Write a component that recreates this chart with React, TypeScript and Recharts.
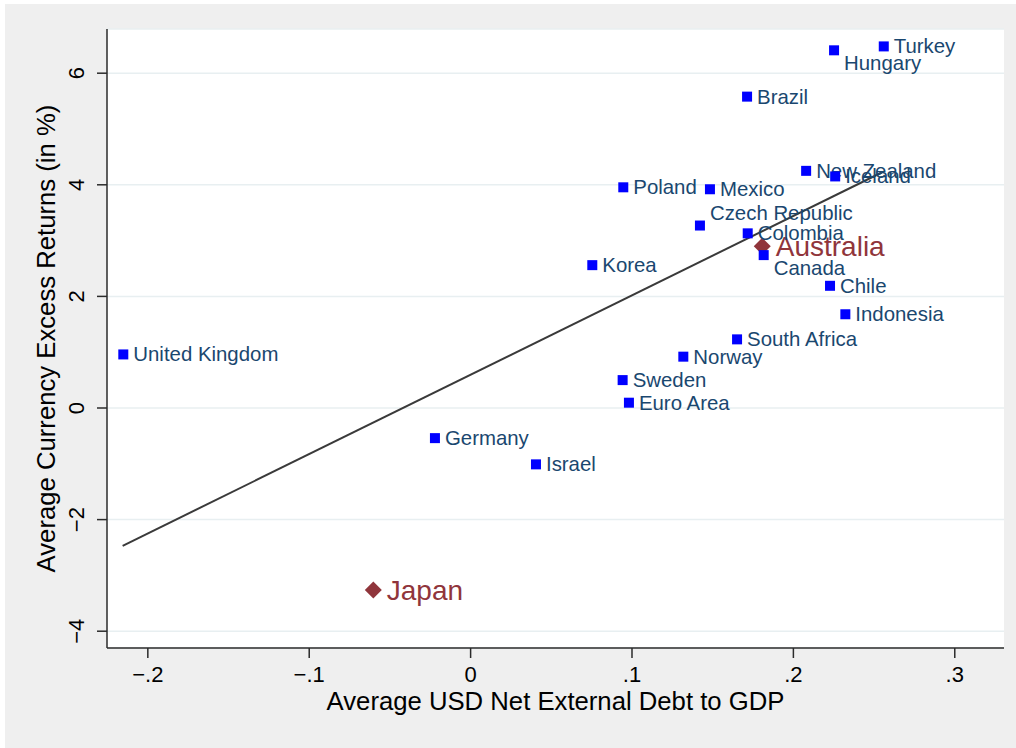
import { ScatterChart, Scatter, XAxis, YAxis, CartesianGrid, ReferenceLine } from 'recharts'

const FONT = '"Liberation Sans", Arial, Helvetica, sans-serif'

// currencies: net external debt in USD (share of GDP) vs. average excess return (%)
const countries = [
  'Turkey', 'Hungary', 'Brazil', 'New Zealand', 'Iceland', 'Poland', 'Mexico',
  'Czech Republic', 'Colombia', 'Canada', 'Korea', 'Chile', 'Indonesia',
  'South Africa', 'United Kingdom', 'Norway', 'Sweden', 'Euro Area', 'Germany', 'Israel',
]
const netDebt = [
  0.256, 0.2252, 0.1713, 0.2079, 0.2259, 0.0946, 0.1483,
  0.1421, 0.1717, 0.1816, 0.0754, 0.2227, 0.2322,
  0.1651, -0.2152, 0.1318, 0.0942, 0.0981, -0.0221, 0.0405,
]
const excessReturn = [
  6.48, 6.41, 5.58, 4.25, 4.15, 3.955, 3.92,
  3.27, 3.13, 2.74, 2.56, 2.19, 1.68,
  1.23, 0.96, 0.92, 0.5, 0.095, -0.54, -1.01,
]

// highlighted currencies
const featured = ['Australia', 'Japan']
const featuredDebt = [0.1807, -0.0603]
const featuredReturn = [2.9, -3.26]

// linear fit end points
const fitX = [-0.2156, 0.2547]
const fitY = [-2.47, 4.22]

const xTicks = [-0.2, -0.1, 0, 0.1, 0.2, 0.3]
const yTicks = [-4, -2, 0, 2, 4, 6]

// marker label clock positions (default 3 o'clock)
const labelClock: Record<string, number> = {
  Hungary: 4,
  Canada: 4,
  'Czech Republic': 2,
}

const points = countries.map((name, i) => ({ name, x: netDebt[i], y: excessReturn[i] }))
const featuredPoints = featured.map((name, i) => ({ name, x: featuredDebt[i], y: featuredReturn[i] }))

const minus = (s: string) => s.replace('-', '\u2212')
const fmtX = (v: number) => (v === 0 ? '0' : minus(v.toFixed(1).replace('0.', '.')))

const SquareMarker = (props: any) => {
  const { cx, cy, payload } = props
  const clock = labelClock[payload.name] ?? 3
  const dy = clock === 4 ? 19.5 : clock === 2 ? -5.5 : 7
  return (
    <g>
      <rect x={cx - 5} y={cy - 5} width={10} height={10} fill="#0000ff" />
      <text x={cx + 10} y={cy + dy} fill="#1a476f" fontSize={20.4} fontFamily={FONT}>
        {payload.name}
      </text>
    </g>
  )
}

const DiamondMarker = (props: any) => {
  const { cx, cy, payload } = props
  const r = 8.5
  return (
    <g>
      <polygon
        points={`${cx},${cy - r} ${cx + r},${cy} ${cx},${cy + r} ${cx - r},${cy}`}
        fill="#90353b"
      />
      <text x={cx + 13.5} y={cy + 10} fill="#90353b" fontSize={28} fontFamily={FONT}>
        {payload.name}
      </text>
    </g>
  )
}

const XTick = (props: any) => (
  <text x={props.x} y={682} textAnchor="middle" fontSize={22} fontFamily={FONT} fill="#000">
    {fmtX(props.payload.value)}
  </text>
)

const YTick = (props: any) => {
  const y = props.y
  return (
    <text
      x={84}
      y={y}
      transform={`rotate(-90 84 ${y})`}
      textAnchor="middle"
      fontSize={22}
      fontFamily={FONT}
      fill="#000"
    >
      {minus(String(props.payload.value))}
    </text>
  )
}

const XTitle = (props: any) => {
  const vb = props.viewBox
  return (
    <text x={vb.x + vb.width / 2} y={710} textAnchor="middle" fontSize={25.7} fontFamily={FONT} fill="#000">
      Average USD Net External Debt to GDP
    </text>
  )
}

const YTitle = (props: any) => {
  const vb = props.viewBox
  const cy = vb.y + vb.height / 2
  return (
    <text
      x={55}
      y={cy}
      transform={`rotate(-90 55 ${cy})`}
      textAnchor="middle"
      fontSize={25.7}
      fontFamily={FONT}
      fill="#000"
    >
      Average Currency Excess Returns (in %)
    </text>
  )
}

export default function App() {
  return (
    <div style={{ position: 'absolute', left: 0, top: 0, width: 1016, height: 748, background: '#fff' }}>
      <div style={{ position: 'absolute', left: 5, top: 4, width: 1011, height: 744, background: '#efefef' }} />
      <div style={{ position: 'absolute', left: 0, top: 0 }}>
        <ScatterChart width={1016} height={748} margin={{ top: 29, right: 12, left: 0, bottom: 0 }}>
          <CartesianGrid vertical={false} fill="#ffffff" stroke="#e8eff1" strokeWidth={1.5} />
          <XAxis
            type="number"
            dataKey="x"
            domain={[-0.2253, 0.3305]}
            allowDataOverflow
            ticks={xTicks}
            height={100}
            tickSize={10}
            axisLine={{ stroke: '#2b2b2b', strokeWidth: 1.5 }}
            tickLine={{ stroke: '#2b2b2b', strokeWidth: 1.5 }}
            tick={<XTick />}
            label={<XTitle />}
          />
          <YAxis
            type="number"
            dataKey="y"
            domain={[-4.301, 6.792]}
            allowDataOverflow
            ticks={yTicks}
            width={107}
            tickSize={10}
            axisLine={{ stroke: '#2b2b2b', strokeWidth: 1.5 }}
            tickLine={{ stroke: '#2b2b2b', strokeWidth: 1.5 }}
            tick={<YTick />}
            label={<YTitle />}
          />
          <Scatter data={featuredPoints} shape={<DiamondMarker />} isAnimationActive={false} />
          <Scatter data={points} shape={<SquareMarker />} isAnimationActive={false} />
          <ReferenceLine
            segment={[
              { x: fitX[0], y: fitY[0] },
              { x: fitX[1], y: fitY[1] },
            ]}
            stroke="#3a3a3a"
            strokeWidth={2}
          />
        </ScatterChart>
      </div>
    </div>
  )
}
